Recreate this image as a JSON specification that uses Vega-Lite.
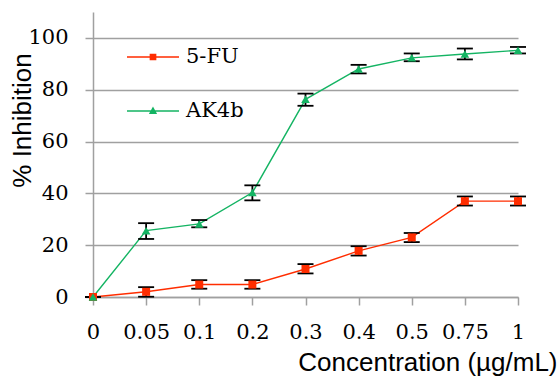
{
  "$schema": "https://vega.github.io/schema/vega-lite/v6.json",
  "autosize": "none",
  "width": 425,
  "height": 285,
  "padding": {"left": 93, "top": 12, "right": 42, "bottom": 81},
  "background": "white",
  "config": {"view": {"stroke": null}},
  "data": {"values": [
    {"conc": "0", "series": "5-FU", "v": 0, "lo": 0, "hi": 0},
    {"conc": "0.05", "series": "5-FU", "v": 2.0, "lo": 0.1, "hi": 3.8},
    {"conc": "0.1", "series": "5-FU", "v": 4.8, "lo": 3.2, "hi": 6.5},
    {"conc": "0.2", "series": "5-FU", "v": 4.8, "lo": 3.2, "hi": 6.5},
    {"conc": "0.3", "series": "5-FU", "v": 10.8, "lo": 9.1, "hi": 12.7},
    {"conc": "0.4", "series": "5-FU", "v": 17.8, "lo": 16.0, "hi": 19.6},
    {"conc": "0.5", "series": "5-FU", "v": 23.0, "lo": 21.2, "hi": 24.7},
    {"conc": "0.75", "series": "5-FU", "v": 37.0, "lo": 35.3, "hi": 38.8},
    {"conc": "1", "series": "5-FU", "v": 37.0, "lo": 35.3, "hi": 38.8},
    {"conc": "0", "series": "AK4b", "v": 0, "lo": 0, "hi": 0},
    {"conc": "0.05", "series": "AK4b", "v": 25.6, "lo": 22.4, "hi": 28.5},
    {"conc": "0.1", "series": "AK4b", "v": 28.2, "lo": 26.9, "hi": 29.7},
    {"conc": "0.2", "series": "AK4b", "v": 40.3, "lo": 37.3, "hi": 43.1},
    {"conc": "0.3", "series": "AK4b", "v": 76.3, "lo": 73.8, "hi": 78.5},
    {"conc": "0.4", "series": "AK4b", "v": 88.0, "lo": 86.3, "hi": 89.6},
    {"conc": "0.5", "series": "AK4b", "v": 92.3, "lo": 91.0, "hi": 94.0},
    {"conc": "0.75", "series": "AK4b", "v": 93.8, "lo": 91.7, "hi": 95.9},
    {"conc": "1", "series": "AK4b", "v": 95.2, "lo": 94.0, "hi": 96.5}
  ]},
  "encoding": {
    "x": {
      "field": "conc", "type": "ordinal",
      "sort": ["0", "0.05", "0.1", "0.2", "0.3", "0.4", "0.5", "0.75", "1"],
      "scale": {"type": "point", "padding": 0},
      "axis": {
        "title": "Concentration (µg/mL)",
        "titleFont": "Liberation Sans", "titleFontSize": 26, "titleFontWeight": "normal", "titleColor": "black",
        "titleX": 464, "titleY": 73, "titleAlign": "right", "titleBaseline": "alphabetic", "titleAnchor": null,
        "labelFont": "DejaVu Serif", "labelFontSize": 21, "labelColor": "black", "labelAngle": 0,
        "labelPadding": 16, "labelBaseline": "top",
        "domainColor": "#A0A0A0", "domainWidth": 1.5,
        "tickColor": "#A0A0A0", "tickWidth": 1.5, "tickSize": 8,
        "grid": false
      }
    }
  },
  "layer": [
    {
      "mark": {"type": "line", "strokeWidth": 1.4},
      "encoding": {
        "y": {
          "field": "v", "type": "quantitative",
          "scale": {"domain": [0, 110], "nice": false},
          "axis": {
            "title": "% Inhibition",
            "titleFont": "Liberation Sans", "titleFontSize": 26, "titleFontWeight": "normal", "titleColor": "black",
            "titleX": -71, "titleY": 108, "titleAngle": 270, "titleAlign": "center", "titleBaseline": "middle",
            "values": [0, 20, 40, 60, 80, 100],
            "labelFont": "DejaVu Serif", "labelFontSize": 21, "labelColor": "black",
            "labelPadding": 17,
            "domainColor": "#A0A0A0", "domainWidth": 1.5,
            "tickColor": "#A0A0A0", "tickWidth": 1.5, "tickSize": 8,
            "grid": true, "gridColor": "#A0A0A0", "gridWidth": 1.5
          }
        },
        "color": {
          "field": "series", "type": "nominal",
          "scale": {"domain": ["5-FU", "AK4b"], "range": ["#FF2D00", "#14B463"]},
          "legend": {
            "title": null, "orient": "none", "legendX": 33, "legendY": 18,
            "padding": 0, "rowPadding": 17, "labelOffset": 6,
            "labelFont": "DejaVu Serif", "labelFontSize": 21, "labelColor": "black",
            "symbolSize": 2704, "symbolStrokeWidth": 1.5,
            "encode": {
              "symbols": {
                "update": {
                  "shape": {"signal": "datum.value == '5-FU' ? 'M-1,0H1M-0.1,-0.1H0.1V0.1H-0.1Z' : 'M-1,0H1M0,-0.11L0.11,0.09H-0.11Z'"},
                  "fill": {"signal": "datum.value == '5-FU' ? '#FF2D00' : '#14B463'"},
                  "stroke": {"signal": "datum.value == '5-FU' ? '#FF2D00' : '#14B463'"},
                  "strokeWidth": {"value": 1.5},
                  "opacity": {"value": 1}
                }
              }
            }
          }
        }
      }
    },
    {
      "mark": {"type": "errorbar", "color": "black", "thickness": 1.8, "ticks": {"size": 16, "color": "black", "opacity": 1}, "rule": {"color": "black", "opacity": 1}},
      "encoding": {
        "y": {"field": "lo", "type": "quantitative", "title": "% Inhibition"},
        "y2": {"field": "hi"},
        "detail": {"field": "series"}
      }
    },
    {
      "transform": [{"filter": "datum.series == '5-FU'"}],
      "mark": {"type": "point", "filled": true, "size": 64, "opacity": 1, "shape": "square", "color": "#FF2D00"},
      "encoding": {
        "y": {"field": "v", "type": "quantitative"}
      }
    },
    {
      "transform": [{"filter": "datum.series == 'AK4b'"}],
      "mark": {"type": "point", "filled": true, "size": 75, "opacity": 1, "shape": "triangle-up", "color": "#14B463"},
      "encoding": {
        "y": {"field": "v", "type": "quantitative"}
      }
    }
  ]
}
